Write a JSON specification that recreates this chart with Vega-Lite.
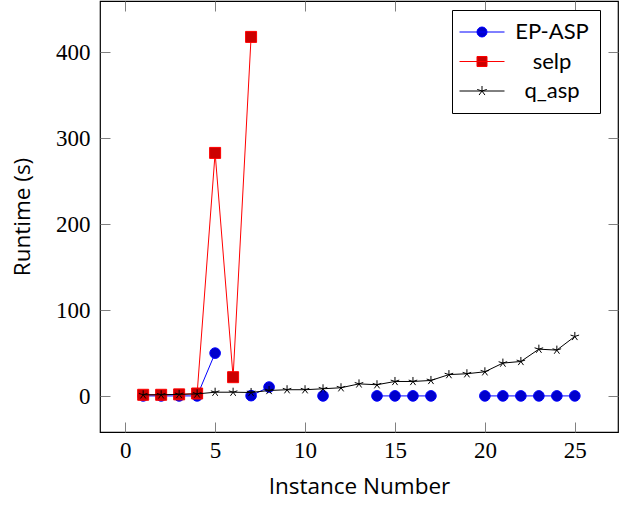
{
  "$schema": "https://vega.github.io/schema/vega-lite/v6.json",
  "width": 518,
  "height": 431,
  "autosize": {"type": "none"},
  "padding": {"left": 100, "top": 1, "right": 3, "bottom": 74},
  "background": "white",
  "config": {
    "view": {"stroke": "black", "strokeWidth": 1.2},
    "axis": {
      "domain": false, "grid": false,
      "tickColor": "#808080", "tickWidth": 1, "tickSize": -10,
      "labelFont": "Liberation Serif", "labelFontSize": 23, "labelColor": "black",
      "titleFont": "Open Sans", "titleFontSize": 22.5, "titleFontWeight": "normal", "titleColor": "black"
    }
  },
  "data": {"values": [
    {"series": "EP-ASP", "instance": 1, "runtime": 0.2},
    {"series": "EP-ASP", "instance": 2, "runtime": 0.2},
    {"series": "EP-ASP", "instance": 3, "runtime": 0.2},
    {"series": "EP-ASP", "instance": 4, "runtime": 0.2},
    {"series": "EP-ASP", "instance": 5, "runtime": 50},
    {"series": "EP-ASP", "instance": 6, "runtime": null},
    {"series": "EP-ASP", "instance": 7, "runtime": 0.5},
    {"series": "EP-ASP", "instance": 8, "runtime": 10.5},
    {"series": "EP-ASP", "instance": 9, "runtime": null},
    {"series": "EP-ASP", "instance": 10, "runtime": null},
    {"series": "EP-ASP", "instance": 11, "runtime": 0.2},
    {"series": "EP-ASP", "instance": 12, "runtime": null},
    {"series": "EP-ASP", "instance": 13, "runtime": null},
    {"series": "EP-ASP", "instance": 14, "runtime": 0.2},
    {"series": "EP-ASP", "instance": 15, "runtime": 0.2},
    {"series": "EP-ASP", "instance": 16, "runtime": 0.2},
    {"series": "EP-ASP", "instance": 17, "runtime": 0.2},
    {"series": "EP-ASP", "instance": 18, "runtime": null},
    {"series": "EP-ASP", "instance": 19, "runtime": null},
    {"series": "EP-ASP", "instance": 20, "runtime": 0.2},
    {"series": "EP-ASP", "instance": 21, "runtime": 0.2},
    {"series": "EP-ASP", "instance": 22, "runtime": 0.2},
    {"series": "EP-ASP", "instance": 23, "runtime": 0.2},
    {"series": "EP-ASP", "instance": 24, "runtime": 0.2},
    {"series": "EP-ASP", "instance": 25, "runtime": 0.2},
    {"series": "selp", "instance": 1, "runtime": 1.5},
    {"series": "selp", "instance": 2, "runtime": 1.5},
    {"series": "selp", "instance": 3, "runtime": 2},
    {"series": "selp", "instance": 4, "runtime": 3},
    {"series": "selp", "instance": 5, "runtime": 283},
    {"series": "selp", "instance": 6, "runtime": 22},
    {"series": "selp", "instance": 7, "runtime": 418},
    {"series": "q_asp", "instance": 1, "runtime": 1.5},
    {"series": "q_asp", "instance": 2, "runtime": 1.5},
    {"series": "q_asp", "instance": 3, "runtime": 2},
    {"series": "q_asp", "instance": 4, "runtime": 2.5},
    {"series": "q_asp", "instance": 5, "runtime": 4.5},
    {"series": "q_asp", "instance": 6, "runtime": 4.5},
    {"series": "q_asp", "instance": 7, "runtime": 4.2},
    {"series": "q_asp", "instance": 8, "runtime": 6.5},
    {"series": "q_asp", "instance": 9, "runtime": 7.4},
    {"series": "q_asp", "instance": 10, "runtime": 7.4},
    {"series": "q_asp", "instance": 11, "runtime": 8.5},
    {"series": "q_asp", "instance": 12, "runtime": 9.7},
    {"series": "q_asp", "instance": 13, "runtime": 14.2},
    {"series": "q_asp", "instance": 14, "runtime": 13.2},
    {"series": "q_asp", "instance": 15, "runtime": 17},
    {"series": "q_asp", "instance": 16, "runtime": 17},
    {"series": "q_asp", "instance": 17, "runtime": 18.2},
    {"series": "q_asp", "instance": 18, "runtime": 25},
    {"series": "q_asp", "instance": 19, "runtime": 26},
    {"series": "q_asp", "instance": 20, "runtime": 28.3},
    {"series": "q_asp", "instance": 21, "runtime": 38.4},
    {"series": "q_asp", "instance": 22, "runtime": 40.3},
    {"series": "q_asp", "instance": 23, "runtime": 54.6},
    {"series": "q_asp", "instance": 24, "runtime": 53.5},
    {"series": "q_asp", "instance": 25, "runtime": 69.4}
  ]},
  "encoding": {
    "x": {"field": "instance", "type": "quantitative", "scale": {"domain": [-1.4, 27.4], "nice": false, "zero": false}, "axis": null},
    "y": {"field": "runtime", "type": "quantitative", "scale": {"domain": [-41.8, 459.8], "nice": false, "zero": false}, "axis": null}
  },
  "layer": [
    {
      "transform": [{"filter": "datum.series === 'EP-ASP'"}],
      "mark": {"type": "line", "strokeWidth": 1, "invalid": "break-paths-filter-domains"},
      "encoding": {
        "x": {"field": "instance", "type": "quantitative", "scale": {"domain": [-1.4, 27.4], "nice": false, "zero": false},
              "axis": {"orient": "bottom", "values": [0, 5, 10, 15, 20, 25], "title": "Instance Number", "labelPadding": 17, "titlePadding": 13}},
        "y": {"field": "runtime", "type": "quantitative", "scale": {"domain": [-41.8, 459.8], "nice": false, "zero": false},
              "axis": {"orient": "left", "values": [0, 100, 200, 300, 400], "title": "Runtime (s)", "labelPadding": 20, "titlePadding": 21}},
        "color": {"field": "series", "type": "nominal",
          "scale": {"domain": ["EP-ASP", "selp", "q_asp"], "range": ["#0000ff", "#ff0000", "#000000"]},
          "legend": {"orient": "none", "legendX": 352, "legendY": 9, "title": null,
            "symbolSize": 400, "symbolOffset": 8, "labelAlign": "center", "labelOffset": 59,
            "labelFont": "Lato", "labelFontSize": 22, "labelColor": "black",
            "strokeColor": "black", "fillColor": "white", "padding": 11, "rowPadding": 7.5, "cornerRadius": 0,
            "encode": {"symbols": {"update": {
              "shape": {"signal": "datum.value === 'EP-ASP' ? 'M-2.25,0L2.25,0M-0.5,0A0.5,0.5,0,1,0,0.5,0A0.5,0.5,0,1,0,-0.5,0Z' : datum.value === 'selp' ? 'M-2.25,0L2.25,0M-0.5,-0.5L0.5,-0.5L0.5,0.5L-0.5,0.5Z' : 'M-2.25,0L2.25,0M0,0L0,-0.5M0,0L0.476,-0.155M0,0L-0.476,-0.155M0,0L-0.294,0.405M0,0L0.294,0.405'"},
              "fill": {"signal": "datum.value === 'EP-ASP' ? '#0000cc' : datum.value === 'selp' ? '#cc0000' : 'transparent'"},
              "stroke": {"signal": "datum.value === 'EP-ASP' ? '#0000ff' : datum.value === 'selp' ? '#ff0000' : '#000000'"},
              "strokeWidth": {"value": 1},
              "opacity": {"value": 1}
            }}}
          }}
      }
    },
    {
      "transform": [{"filter": "datum.series === 'EP-ASP'"}],
      "mark": {"type": "point", "shape": "circle", "filled": true, "fill": "#0000cc", "stroke": "#0000ff", "strokeWidth": 1, "size": 113, "opacity": 1},
      "encoding": {
        "x": {"field": "instance", "type": "quantitative", "scale": {"domain": [-1.4, 27.4], "nice": false, "zero": false},
              "axis": {"orient": "top", "values": [0, 5, 10, 15, 20, 25], "labels": false, "title": null}},
        "y": {"field": "runtime", "type": "quantitative", "scale": {"domain": [-41.8, 459.8], "nice": false, "zero": false},
              "axis": {"orient": "right", "values": [0, 100, 200, 300, 400], "labels": false, "title": null}}
      }
    },
    {
      "transform": [{"filter": "datum.series === 'selp'"}],
      "mark": {"type": "line", "strokeWidth": 1, "invalid": "break-paths-filter-domains"},
      "encoding": {
        "color": {"field": "series", "type": "nominal",
          "scale": {"domain": ["EP-ASP", "selp", "q_asp"], "range": ["#0000ff", "#ff0000", "#000000"]}}
      }
    },
    {
      "transform": [{"filter": "datum.series === 'selp'"}],
      "mark": {"type": "point", "shape": "square", "filled": true, "fill": "#cc0000", "stroke": "#ff0000", "strokeWidth": 1, "size": 121, "opacity": 1}
    },
    {
      "transform": [{"filter": "datum.series === 'q_asp'"}],
      "mark": {"type": "line", "strokeWidth": 1, "invalid": "break-paths-filter-domains"},
      "encoding": {
        "color": {"field": "series", "type": "nominal",
          "scale": {"domain": ["EP-ASP", "selp", "q_asp"], "range": ["#0000ff", "#ff0000", "#000000"]}}
      }
    },
    {
      "transform": [{"filter": "datum.series === 'q_asp'"}],
      "mark": {"type": "point", "shape": "M0,0L0,-1M0,0L0.951,-0.309M0,0L-0.951,-0.309M0,0L-0.588,0.809M0,0L0.588,0.809", "filled": false, "stroke": "#000000", "strokeWidth": 1, "size": 81, "opacity": 1}
    }
  ],
  "resolve": {"axis": {"x": "independent", "y": "independent"}}
}
